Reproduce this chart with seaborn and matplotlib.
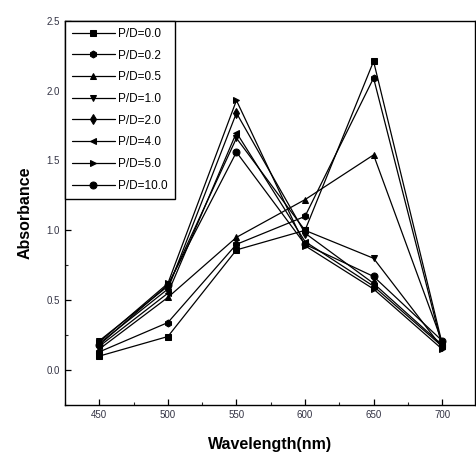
import matplotlib
matplotlib.use("Agg")
import matplotlib.pyplot as plt
import seaborn as sns
import pandas as pd
from matplotlib.ticker import MultipleLocator

wavelength = [450, 500, 550, 600, 650, 700]
series_labels = ["P/D=0.0", "P/D=0.2", "P/D=0.5", "P/D=1.0",
                 "P/D=2.0", "P/D=4.0", "P/D=5.0", "P/D=10.0"]
pd_00 = [0.10, 0.24, 0.86, 1.00, 2.21, 0.19]
pd_02 = [0.13, 0.34, 0.90, 1.10, 2.09, 0.17]
pd_05 = [0.15, 0.52, 0.95, 1.22, 1.54, 0.20]
pd_10 = [0.21, 0.60, 1.66, 1.00, 0.80, 0.16]
pd_20 = [0.19, 0.58, 1.84, 0.98, 0.62, 0.18]
pd_40 = [0.17, 0.55, 1.70, 0.92, 0.60, 0.17]
pd_50 = [0.20, 0.62, 1.93, 0.89, 0.58, 0.15]
pd_100 = [0.18, 0.61, 1.56, 0.90, 0.67, 0.21]
all_values = [pd_00, pd_02, pd_05, pd_10, pd_20, pd_40, pd_50, pd_100]

rows = []
for lab, vals in zip(series_labels, all_values):
    for w, v in zip(wavelength, vals):
        rows.append({"Wavelength": w, "Absorbance": v, "series": lab})
df = pd.DataFrame(rows)

sns.set_theme(style="ticks")
plt.rcParams["font.family"] = ["Liberation Sans", "DejaVu Sans"]
plt.rcParams["text.color"] = "black"
plt.rcParams["axes.labelcolor"] = "black"

marker_map = dict(zip(series_labels, ["s", "h", "^", "v", "d", "<", ">", "o"]))

fig = plt.figure(figsize=(4.76, 4.62), dpi=100)
ax = fig.add_axes([0.1366, 0.1234, 0.998 - 0.1366, 0.955 - 0.1234])

sns.lineplot(data=df, x="Wavelength", y="Absorbance", style="series",
             markers=marker_map, dashes=False, color="black",
             linewidth=0.9, markersize=5, markeredgecolor="black",
             ax=ax, legend=True)

ax.set_xlim(425, 724)
ax.set_ylim(-0.25, 2.5)
ax.xaxis.set_minor_locator(MultipleLocator(25))
ax.yaxis.set_minor_locator(MultipleLocator(0.25))
ax.set_xticks([450, 500, 550, 600, 650, 700])
ax.set_yticks([0.0, 0.5, 1.0, 1.5, 2.0, 2.5])
ax.set_yticklabels(["0.0", "0.5", "1.0", "1.5", "2.0", "2.5"])
ax.tick_params(axis="both", which="major", direction="in", length=4,
               width=0.9, labelsize=7, colors="black", labelcolor="#333344")
ax.tick_params(axis="both", which="minor", direction="in", length=2, width=0.8)
for s in ax.spines.values():
    s.set_visible(True)
    s.set_linewidth(1.0)
    s.set_color("black")

ax.set_xlabel("Wavelength(nm)", fontsize=11.5, fontweight="bold", labelpad=12,
              color="black")
ax.set_ylabel("Absorbance", fontsize=11.5, fontweight="bold", labelpad=10,
              color="black")

leg = ax.legend(loc="upper left", bbox_to_anchor=(0.0, 1.0), borderaxespad=0.0,
                frameon=True, fancybox=False, edgecolor="black",
                fontsize=8.5, handlelength=3.6, handletextpad=0.3,
                labelspacing=0.82, borderpad=0.6)
leg.get_frame().set_linewidth(1.0)
leg.get_frame().set_alpha(1.0)
for t in leg.get_texts():
    t.set_color("black")

fig.savefig("out.png", dpi=100)
